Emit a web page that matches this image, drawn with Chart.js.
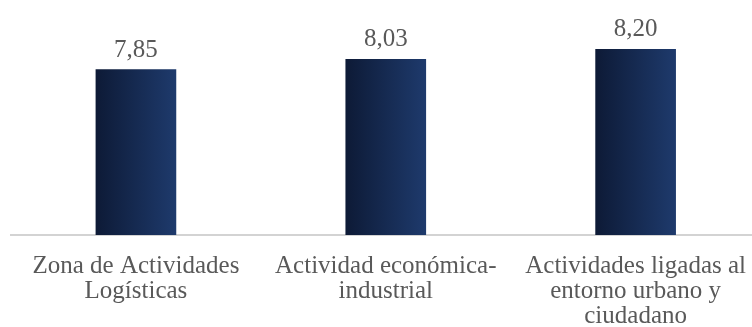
<!DOCTYPE html>
<html>
<head>
<meta charset="utf-8">
<script src="https://cdn.jsdelivr.net/npm/chart.js@4"></script>
<style>
  html, body { margin: 0; padding: 0; background: #fff; overflow: hidden; }
  #wrap { width: 765px; height: 352px; position: relative; }
</style>
</head>
<body>
<div id="wrap"><canvas id="chart"></canvas></div>
<script>
// categories and scores
var CATEGORIES = [
    ['Zona de Actividades', 'Logísticas'],
    ['Actividad económica-', 'industrial'],
    ['Actividades ligadas al', 'entorno urbano y', 'ciudadano']
];
var SCORES = [7.85, 8.03, 8.20];

var FONT = "'Liberation Serif', 'Times New Roman', serif";
var TEXT = '#595959';

// horizontal gradient per bar, dark on the left
var barGradient = {
    id: 'barGradient',
    beforeDatasetsDraw: function(chart) {
        var c = chart.ctx;
        chart.getDatasetMeta(0).data.forEach(function(bar) {
            var g = c.createLinearGradient(bar.x - bar.width / 2, 0, bar.x + bar.width / 2, 0);
            g.addColorStop(0, '#0d1a36');
            g.addColorStop(1, '#1e3a6c');
            bar.options.backgroundColor = g;
        });
    }
};

// value labels above bars, decimal comma
var valueLabels = {
    id: 'valueLabels',
    afterDatasetsDraw: function(chart) {
        var c = chart.ctx;
        c.save();
        c.font = '25px ' + FONT;
        c.fillStyle = TEXT;
        c.textAlign = 'center';
        c.textBaseline = 'alphabetic';
        chart.getDatasetMeta(0).data.forEach(function(bar, i) {
            c.fillText(SCORES[i].toFixed(2).replace('.', ','), bar.x, bar.y - 13);
        });
        c.restore();
    }
};

new Chart(document.getElementById('chart'), {
    type: 'bar',
    data: {
        labels: CATEGORIES,
        datasets: [{
            data: SCORES,
            // scriptable so every bar gets its own options object
            backgroundColor: function() { return '#1a3060'; },
            barThickness: 80
        }]
    },
    options: {
        responsive: true,
        maintainAspectRatio: false,
        animation: false,
        layout: { padding: { left: 11, right: 0, top: 3, bottom: 4 } },
        plugins: { legend: { display: false }, tooltip: { enabled: false } },
        scales: {
            x: {
                grid: { display: false, drawTicks: false },
                border: { display: true, color: '#d3d3d3', width: 2 },
                ticks: {
                    color: TEXT,
                    font: { family: FONT, size: 25, lineHeight: 1 },
                    padding: 19,
                    maxRotation: 0,
                    autoSkip: false
                }
            },
            y: {
                display: false,
                min: 5,
                max: 9
            }
        }
    },
    plugins: [barGradient, valueLabels]
});
</script>
</body>
</html>
